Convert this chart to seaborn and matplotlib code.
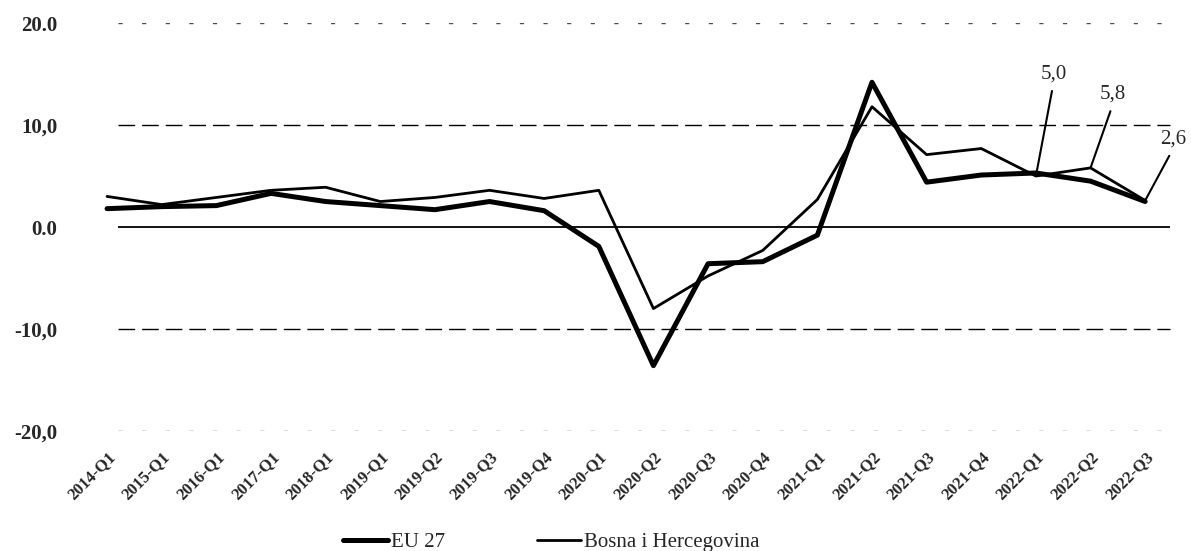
import pandas as pd
import matplotlib
matplotlib.use("Agg")
import matplotlib.pyplot as plt
import seaborn as sns

# Quarterly values
quarters = ["2014-Q1", "2015-Q1", "2016-Q1", "2017-Q1", "2018-Q1", "2019-Q1",
            "2019-Q2", "2019-Q3", "2019-Q4", "2020-Q1", "2020-Q2", "2020-Q3",
            "2020-Q4", "2021-Q1", "2021-Q2", "2021-Q3", "2021-Q4", "2022-Q1",
            "2022-Q2", "2022-Q3"]
eu27 = [1.8, 2.0, 2.1, 3.3, 2.5, 2.1, 1.7, 2.5, 1.6, -1.9, -13.6, -3.6,
        -3.4, -0.8, 14.2, 4.4, 5.1, 5.3, 4.5, 2.5]
bih = [3.0, 2.2, 2.9, 3.6, 3.9, 2.5, 2.9, 3.6, 2.8, 3.6, -8.0, -4.8,
       -2.3, 2.7, 11.8, 7.1, 7.7, 5.0, 5.8, 2.6]
y_ticks = [20, 10, 0, -10, -20]
y_tick_labels = ["20.0", "10,0", "0.0", "-10,0", "-20,0"]
labeled_points = ["2022-Q1", "2022-Q2", "2022-Q3"]
labeled_texts = ["5,0", "5,8", "2,6"]

df = pd.DataFrame({"quarter": quarters, "EU 27": eu27, "Bosna i Hercegovina": bih})
long_df = df.melt(id_vars="quarter", var_name="series", value_name="value")

sns.set_style("white")
plt.rcParams["font.family"] = ["Liberation Serif", "DejaVu Serif"]

fig = plt.figure(figsize=(11.91, 5.51), dpi=100)
ax = fig.add_axes([0.0798, 0.218, 0.9042, 0.740])

sns.lineplot(data=long_df, x="quarter", y="value", hue="series", size="series",
             sizes={"EU 27": 3.6, "Bosna i Hercegovina": 2.0},
             palette={"EU 27": "black", "Bosna i Hercegovina": "black"},
             ax=ax, legend=True)

# horizontal reference lines (scanned look: dashed, zero line solid)
n = len(quarters)
for t in y_ticks:
    if t == 0:
        ax.hlines(t, 0.2, n - 0.54, color="black", lw=1.3, zorder=1)
    elif abs(t) == 20:
        ax.hlines(t, 0.2, n - 0.54, color="black", lw=1.0, alpha=0.7,
                  linestyles=(0, (3, 14)), zorder=1)
    else:
        ax.hlines(t, 0.2, n - 0.54, color="black", lw=1.0,
                  linestyles=(0, (12, 5)), zorder=1)

ax.set_xlim(-0.22, n - 0.51)
ax.set_ylim(-20, 20)
ax.set_yticks(y_ticks)
ax.set_yticklabels(y_tick_labels, fontsize=15, fontweight="bold")
ax.set_xticks(range(n))
ax.set_xticklabels(quarters, rotation=45, ha="right", rotation_mode="anchor",
                   fontsize=12, fontweight="bold")
ax.tick_params(axis="y", length=0, pad=27)
ax.tick_params(axis="x", length=0, pad=13)
ax.set_xlabel("")
ax.set_ylabel("")
for s in ax.spines.values():
    s.set_visible(False)

# callouts for the last three Bosnia values
offsets = [(0.32, 15.0), (0.41, 13.0), (0.51, 8.6)]
for q, txt, (dx, ty) in zip(labeled_points, labeled_texts, offsets):
    i = quarters.index(q)
    ax.annotate(txt, xy=(i, bih[i]), xytext=(i + dx, ty), ha="center", va="center",
                fontsize=15, annotation_clip=False,
                arrowprops=dict(arrowstyle="-", color="black", lw=1.5,
                                relpos=(0.5, 0), shrinkA=3, shrinkB=0))

handles, labels = ax.get_legend_handles_labels()
ax.legend(handles, labels, loc="center", bbox_to_anchor=(0.463, 0.016),
          bbox_transform=fig.transFigure, ncol=2, frameon=False, fontsize=15,
          handlelength=2.15, handletextpad=0.15, columnspacing=4.4)

fig.savefig("out.png", dpi=100)
